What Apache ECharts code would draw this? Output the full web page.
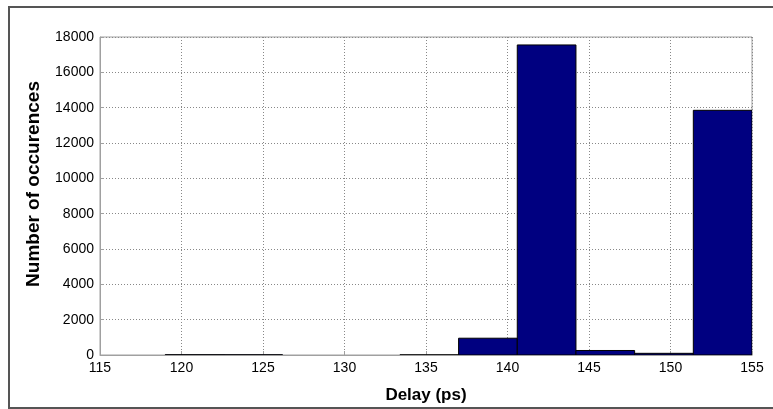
<!DOCTYPE html>
<html>
<head>
<meta charset="utf-8">
<script src="https://cdn.jsdelivr.net/npm/echarts@6/dist/echarts.min.js"></script>
<style>
  html, body { margin: 0; padding: 0; background: #fff; }
  #chart { width: 773px; height: 409px; }
</style>
</head>
<body>
<div id="chart"></div>
<script>
// Histogram of measured delays: 10 equal-width bins from 119 ps to 155 ps.
const binEdges = [119, 122.6, 126.2, 129.8, 133.4, 137, 140.6, 144.2, 147.8, 151.4, 155];
const binCounts = [12, 8, 0, 0, 6, 950, 17550, 255, 95, 13850];
const xTicks = { min: 115, max: 155, interval: 5 };
const yTicks = { min: 0, max: 18000, interval: 2000 };

const histData = binCounts.map((c, i) => [binEdges[i], binEdges[i + 1], c]);

const FONT = '"Liberation Sans", Arial, sans-serif';

const chart = echarts.init(document.getElementById('chart'), null, { renderer: 'canvas' });

chart.setOption({
  animation: false,
  backgroundColor: '#ffffff',
  grid: {
    left: 100, right: 21, top: 37, bottom: 44,
    show: true, borderColor: '#a0a0a0', borderWidth: 1
  },
  xAxis: {
    type: 'value',
    min: xTicks.min, max: xTicks.max, interval: xTicks.interval,
    name: 'Delay (ps)',
    nameLocation: 'middle',
    nameGap: 32,
    nameTextStyle: { fontFamily: FONT, fontSize: 17, fontWeight: 'bold', color: '#000' },
    axisLine: { lineStyle: { color: '#a0a0a0', width: 1 } },
    axisTick: { inside: true, length: 4, lineStyle: { color: '#a0a0a0' } },
    axisLabel: { fontFamily: FONT, fontSize: 14, color: '#000', margin: 6, formatter: v => String(v) },
    splitLine: { show: true, lineStyle: { color: '#888', type: [1, 2], width: 1 } }
  },
  yAxis: {
    type: 'value',
    min: yTicks.min, max: yTicks.max, interval: yTicks.interval,
    name: 'Number of occurences',
    nameLocation: 'middle',
    nameGap: 57,
    nameTextStyle: {
      fontFamily: FONT, fontSize: 19, fontWeight: 'bold', color: '#000',
      padding: [0, 0, 0, 24]
    },
    axisLine: { show: true, lineStyle: { color: '#a0a0a0', width: 1 } },
    axisTick: { show: true, inside: true, length: 4, lineStyle: { color: '#a0a0a0' } },
    axisLabel: { fontFamily: FONT, fontSize: 14, color: '#000', margin: 6, formatter: v => String(v) },
    splitLine: { show: true, lineStyle: { color: '#888', type: [1, 2], width: 1 } }
  },
  series: [{
    type: 'custom',
    data: histData,
    encode: { x: [0, 1], y: 2 },
    clip: true,
    renderItem: function (params, api) {
      const h = api.value(2);
      if (!h) return null;
      const topLeft = api.coord([api.value(0), h]);
      const bottomRight = api.coord([api.value(1), 0]);
      return {
        type: 'rect',
        shape: {
          x: topLeft[0], y: topLeft[1],
          width: bottomRight[0] - topLeft[0],
          height: bottomRight[1] - topLeft[1]
        },
        style: { fill: '#000080', stroke: '#000000', lineWidth: 1 }
      };
    }
  }],
  graphic: [{
    type: 'rect',
    silent: true,
    shape: { x: 9, y: 7, width: 790, height: 401 },
    style: { fill: 'none', stroke: '#555555', lineWidth: 2 },
    z: 100
  }]
});
</script>
</body>
</html>
